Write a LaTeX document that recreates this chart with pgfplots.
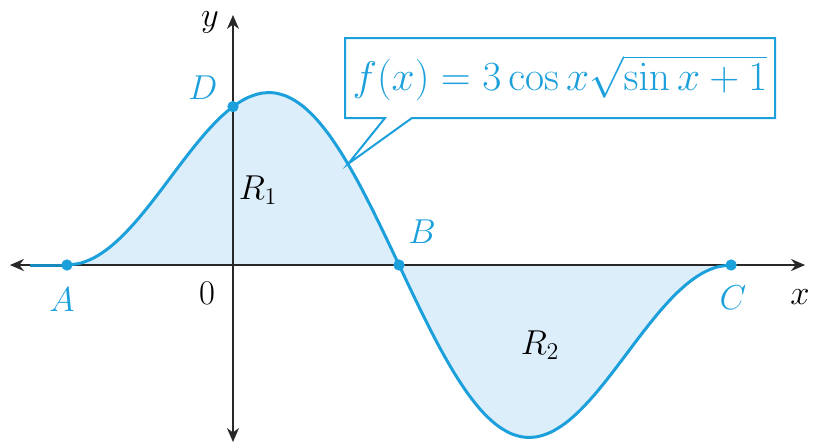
\documentclass[border=0pt]{standalone}
\usepackage{pgfplots}
\pgfplotsset{compat=1.18}
\usetikzlibrary{arrows.meta}

\definecolor{curve}{RGB}{27,160,220}
\definecolor{area}{RGB}{220,238,250}
\definecolor{axisc}{RGB}{40,40,40}

% f(x) = 3 cos x sqrt(sin x + 1), sampled from -pi/2 to 3pi/2 in steps of pi/24
\pgfplotstableread{
x        y
-1.5708  0
-1.4399  0.0362
-1.3090  0.1433
-1.1781  0.3167
-1.0472  0.5490
-0.9163  0.8302
-0.7854  1.1481
-0.6545  1.4887
-0.5236  1.8371
-0.3927  2.1777
-0.2618  2.4947
-0.1309  2.7734
 0.0000  3.0000
 0.1309  3.1624
 0.2618  3.2512
 0.3927  3.2591
 0.5236  3.1820
 0.6545  3.0187
 0.7854  2.7716
 0.9163  2.4456
 1.0472  2.0490
 1.1781  1.5924
 1.3090  1.0887
 1.4399  0.5526
 1.5708  0
 1.7017 -0.5526
 1.8326 -1.0887
 1.9635 -1.5924
 2.0944 -2.0490
 2.2253 -2.4456
 2.3562 -2.7716
 2.4871 -3.0187
 2.6180 -3.1820
 2.7489 -3.2591
 2.8798 -3.2512
 3.0107 -3.1624
 3.1416 -3.0000
 3.2725 -2.7734
 3.4034 -2.4947
 3.5343 -2.1777
 3.6652 -1.8371
 3.7961 -1.4887
 3.9270 -1.1481
 4.0579 -0.8302
 4.1888 -0.5490
 4.3197 -0.3167
 4.4506 -0.1433
 4.5815 -0.0362
 4.7124  0
}\fdata

\begin{document}
\begin{tikzpicture}[lbl/.style={font=\fontsize{16.5}{19}\selectfont}]
\begin{axis}[
  x=52.85pt, y=26.4pt,
  xmin=-2.204, xmax=5.525,
  ymin=-3.39, ymax=5.019,
  hide axis,
  clip=false,
]
\path (axis cs:-2.204,-3.39) rectangle (axis cs:5.525,5.019);

% shaded regions R1 and R2
\addplot[draw=none, fill=area] table[x=x, y=y] {\fdata};

% axes
\draw[axisc, line width=0.9pt, {Stealth[length=7pt,width=6pt]}-{Stealth[length=7pt,width=6pt]}]
  (axis cs:-2.110,0) -- (axis cs:5.412,0);
\draw[axisc, line width=0.9pt, {Stealth[length=7pt,width=6pt]}-{Stealth[length=7pt,width=6pt]}]
  (axis cs:0,-3.352) -- (axis cs:0,4.735);

% curve
\addplot[curve, line width=1.5pt, smooth] table[x=x, y=y] {\fdata};
\addplot[curve!85!black, line width=1.5pt] coordinates {(-1.92,0) (-1.5708,0)};

% points A, B, C, D
\addplot[only marks, mark=*, mark size=2.6pt, curve] coordinates {
  (-1.5708,0) (1.5708,0) (4.7124,0) (0,3)};

% labels
\node[lbl] at (axis cs:-0.218,4.60) {$y$};
\node[lbl] at (axis cs:5.364,-0.606) {$x$};
\node[lbl] at (axis cs:-0.246,-0.53) {$0$};
\node[lbl, text=curve] at (axis cs:-1.618,-0.663) {$A$};
\node[lbl, text=curve] at (axis cs:1.788,0.625) {$B$};
\node[lbl, text=curve] at (axis cs:4.730,-0.625) {$C$};
\node[lbl, text=curve] at (axis cs:-0.284,3.352) {$D$};
\node[lbl] at (axis cs:0.237,1.42) {$R_1$};
\node[lbl] at (axis cs:2.905,-1.515) {$R_2$};

% callout
\draw[curve, line width=1pt, fill=white, line join=miter]
  (axis cs:1.060,2.784) -- (axis cs:1.438,2.784) -- (axis cs:1.088,1.913)
  -- (axis cs:1.693,2.784) -- (axis cs:5.128,2.784) -- (axis cs:5.128,4.299)
  -- (axis cs:1.060,4.299) -- cycle;
\node[font=\fontsize{19.5}{22}\selectfont, text=curve] at (axis cs:3.094,3.54)
  {$f(x) = 3\cos x\sqrt{\sin x + 1}$};
\end{axis}
\end{tikzpicture}
\end{document}
